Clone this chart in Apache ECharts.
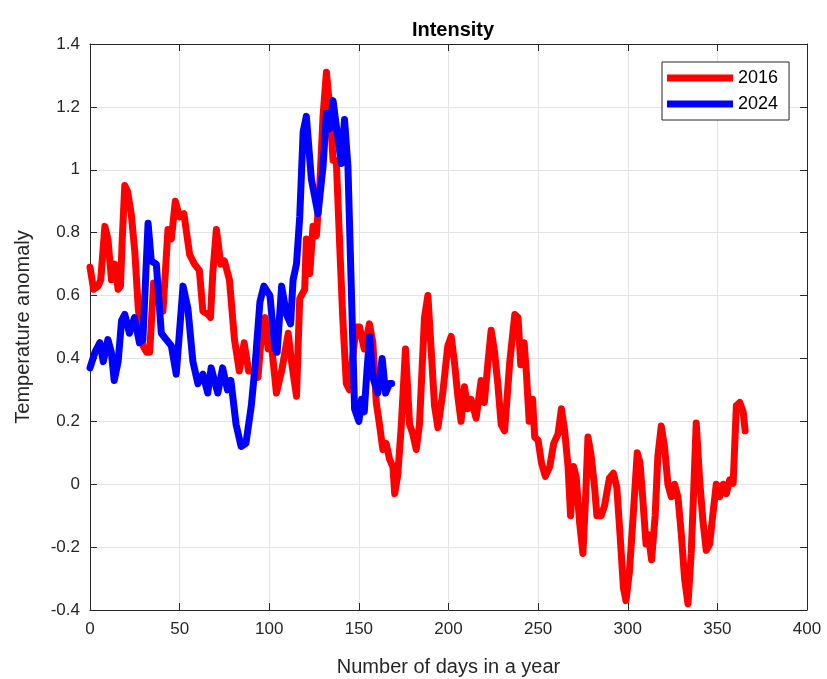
<!DOCTYPE html>
<html>
<head>
<meta charset="utf-8">
<script src="https://cdn.jsdelivr.net/npm/echarts@6/dist/echarts.min.js"></script>
<style>
  html, body { margin: 0; padding: 0; background: #fff; }
  #chart { width: 827px; height: 679px; }
</style>
</head>
<body>
<div id="chart"></div>
<script>
// 2016 anomaly, [day, value]
const data2016 = [
  [0, 0.69], [2, 0.62], [4.5, 0.63], [6, 0.65], [8.3, 0.82], [10, 0.78], [12, 0.65], [13.8, 0.70],
  [15.7, 0.62], [17, 0.63], [18, 0.78], [19.4, 0.95], [21, 0.93], [23, 0.86], [25, 0.74], [26.9, 0.56],
  [29.6, 0.44], [31.5, 0.42], [33.3, 0.42], [35.5, 0.64], [38, 0.60], [40.7, 0.55], [43.5, 0.81],
  [45.4, 0.78], [47.6, 0.90], [50, 0.85], [52.4, 0.86], [55.6, 0.73], [58.3, 0.70], [61, 0.68],
  [63, 0.55], [66, 0.54], [67.2, 0.53], [68.5, 0.67], [70.5, 0.81], [73, 0.70], [75, 0.71],
  [77.8, 0.65], [80.6, 0.46], [83.3, 0.36], [86, 0.45], [88.5, 0.36], [91, 0.36], [93.7, 0.34],
  [96, 0.50], [97.6, 0.53], [99.4, 0.43], [101.3, 0.44], [104, 0.29], [106.9, 0.36], [110.6, 0.48],
  [112.4, 0.39], [115.2, 0.28], [117, 0.59], [119.8, 0.62], [120.7, 0.78], [122.6, 0.67], [124.4, 0.82],
  [126.3, 0.79], [128.1, 0.94], [130, 1.17], [131.9, 1.31], [133.7, 1.20], [135.6, 1.03], [137.4, 1.03],
  [139.3, 0.76], [141, 0.53], [143, 0.32], [144.8, 0.30], [146.5, 0.40], [148.5, 0.50], [150.4, 0.50],
  [153, 0.43], [155.9, 0.51], [157.8, 0.45], [159.7, 0.26], [161.5, 0.19], [163.4, 0.11], [165.2, 0.13],
  [167.1, 0.08], [169, 0.055], [170, -0.03], [171.7, 0.03], [173.6, 0.18], [176, 0.43], [178.3, 0.19],
  [180.1, 0.16], [182, 0.11], [183.8, 0.19], [186.6, 0.53], [188.5, 0.60], [190.3, 0.43], [192.2, 0.25],
  [194.1, 0.18], [196.8, 0.29], [199.6, 0.44], [201.5, 0.47], [203.3, 0.39], [205.2, 0.28], [207, 0.20],
  [208.9, 0.31], [210.8, 0.24], [212.6, 0.27], [215.4, 0.21], [218.2, 0.33], [220, 0.26], [221.9, 0.38],
  [223.8, 0.49], [225.7, 0.42], [227.5, 0.32], [229.4, 0.19], [231.3, 0.17], [234.2, 0.39], [237, 0.54],
  [238.8, 0.53], [240.3, 0.38], [242.2, 0.45], [243.5, 0.35], [245, 0.20], [246.9, 0.27], [248.1, 0.15],
  [250, 0.14], [251.9, 0.067], [254, 0.025], [256.5, 0.056], [258.7, 0.13], [261.1, 0.16], [263, 0.24],
  [264.8, 0.17], [266.7, 0.056], [268.1, -0.10], [269.8, 0.056], [271.3, 0.02], [273.1, -0.12],
  [275, -0.22], [276.5, -0.04], [277.8, 0.15], [279.6, 0.09], [281.5, -0.01], [282.8, -0.10],
  [285.2, -0.10], [287, -0.07], [289.8, 0.02], [292, 0.035], [293.9, -0.01], [295.7, -0.16],
  [297.6, -0.33], [299, -0.37], [300.9, -0.28], [302.8, -0.12], [305.3, 0.10], [306.8, 0.07],
  [308.3, -0.04], [310.2, -0.19], [311.5, -0.16], [313.3, -0.24], [315.3, -0.10], [316.8, 0.09],
  [318.7, 0.185], [320.5, 0.12], [322.4, 0.0], [324.3, -0.04], [326.1, 0.0], [328, -0.04],
  [329.9, -0.16], [331.7, -0.30], [333.6, -0.38], [335.4, -0.22], [336.8, -0.02], [338.2, 0.195],
  [340.1, 0.014], [342, -0.12], [343.8, -0.21], [345.7, -0.19], [347.6, -0.09], [349.4, 0.0],
  [351.3, -0.04], [353.2, 0.0], [355, -0.03], [356.9, 0.014], [358.8, 0.003], [360.6, 0.25],
  [362.5, 0.26], [364.4, 0.23], [365.5, 0.17]
]

// 2024 anomaly, [day, value]
const data2024 = [
  [0, 0.37], [2.8, 0.42], [5.5, 0.45], [7.4, 0.39], [10, 0.46], [11.9, 0.42], [13.5, 0.33], [15.7, 0.39],
  [17.6, 0.52], [19.4, 0.54], [22, 0.48], [24.8, 0.53], [27.6, 0.45], [29.5, 0.46], [32.4, 0.83],
  [34.2, 0.71], [37, 0.70], [39.8, 0.48], [42.6, 0.46], [45.4, 0.44], [48.1, 0.35], [51.9, 0.63],
  [54.6, 0.56], [57.4, 0.39], [60.2, 0.32], [63, 0.35], [65.7, 0.29], [67.6, 0.37], [71.3, 0.29],
  [74, 0.37], [76.7, 0.30], [78.6, 0.33], [81.5, 0.19], [84.3, 0.12], [87, 0.13], [90, 0.25],
  [92, 0.37], [94.8, 0.58], [97, 0.63], [100.4, 0.60], [103.1, 0.43], [104.4, 0.42], [106.9, 0.63],
  [109.6, 0.54], [111.9, 0.51], [113.3, 0.65], [115.2, 0.70], [117, 0.85], [118.9, 1.12], [120.7, 1.17],
  [123.5, 0.97], [127.2, 0.86], [130, 1.01], [131.9, 1.18], [133.7, 1.13], [135.6, 1.22], [137.4, 1.14],
  [140.2, 1.02], [142, 1.16], [143.9, 1.01], [145.7, 0.64], [147.6, 0.24], [150, 0.20], [151.5, 0.27],
  [153, 0.23], [154.5, 0.36], [156, 0.47], [157.8, 0.34], [160.6, 0.29], [163, 0.40], [164.9, 0.29],
  [167.1, 0.32], [168.3, 0.32]
]

const seriesNames = ['2016', '2024']
const seriesColors = ['#ff0000', '#0000ff']

const chart = echarts.init(document.getElementById('chart'))
const axisColor = '#262626'
const font = 'Liberation Sans, Arial, sans-serif'

const xCommon = {
  type: 'value',
  min: 0,
  max: 400,
  interval: 50,
  axisLine: { show: true, onZero: false, lineStyle: { color: axisColor, width: 1 } },
  axisTick: { show: true, inside: true, length: 7, lineStyle: { color: axisColor } },
  splitLine: { show: false }
}
const yCommon = {
  type: 'value',
  min: -0.4,
  max: 1.4,
  interval: 0.2,
  axisLine: { show: true, onZero: false, lineStyle: { color: axisColor, width: 1 } },
  axisTick: { show: true, inside: true, length: 7, lineStyle: { color: axisColor } },
  splitLine: { show: false }
}

const options = {
  animation: false,
  backgroundColor: '#fff',
  title: {
    text: 'Intensity',
    left: 448,
    textAlign: 'center',
    top: 15,
    textStyle: { color: '#000', fontFamily: font, fontWeight: 'bold', fontSize: 20 }
  },
  grid: { left: 90, right: 20, top: 44, bottom: 69, outerBoundsMode: 'none' },
  legend: {
    data: seriesNames,
    orient: 'vertical',
    left: 662,
    top: 62,
    padding: [7, 11, 7, 5],
    itemGap: 8,
    itemWidth: 66,
    itemHeight: 7,
    icon: 'rect',
    borderColor: axisColor,
    borderWidth: 1,
    backgroundColor: '#fff',
    textStyle: { color: '#000', fontFamily: font, fontSize: 18 }
  },
  xAxis: [
    Object.assign({}, xCommon, {
      position: 'bottom',
      name: 'Number of days in a year',
      nameLocation: 'middle',
      nameGap: 47,
      nameTextStyle: { color: axisColor, fontFamily: font, fontSize: 20 },
      axisLabel: { color: axisColor, fontFamily: font, fontSize: 17, margin: 11 },
      splitLine: { show: true, lineStyle: { color: '#e3e3e3', width: 1 } }
    }),
    Object.assign({}, xCommon, { position: 'top', axisLabel: { show: false } })
  ],
  yAxis: [
    Object.assign({}, yCommon, {
      position: 'left',
      name: 'Temperature anomaly',
      nameLocation: 'middle',
      nameGap: 57,
      nameTextStyle: { color: axisColor, fontFamily: font, fontSize: 20 },
      axisLabel: { color: axisColor, fontFamily: font, fontSize: 17, margin: 10 },
      splitLine: { show: true, lineStyle: { color: '#e3e3e3', width: 1 } }
    }),
    Object.assign({}, yCommon, { position: 'right', axisLabel: { show: false } })
  ],
  series: [
    {
      name: seriesNames[0],
      type: 'line',
      xAxisIndex: 0,
      yAxisIndex: 0,
      showSymbol: false,
      color: seriesColors[0],
      lineStyle: { color: seriesColors[0], width: 7, join: 'round', cap: 'round' },
      data: data2016
    },
    {
      name: seriesNames[1],
      type: 'line',
      xAxisIndex: 0,
      yAxisIndex: 0,
      showSymbol: false,
      color: seriesColors[1],
      lineStyle: { color: seriesColors[1], width: 7, join: 'round', cap: 'round' },
      data: data2024
    }
  ]
}
chart.setOption(options)
</script>
</body>
</html>
